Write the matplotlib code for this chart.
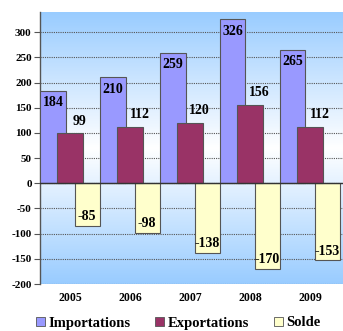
import numpy as np
import matplotlib
matplotlib.use("Agg")
import matplotlib.pyplot as plt
from matplotlib.colors import LinearSegmentedColormap
from matplotlib.patches import Patch

years = ["2005", "2006", "2007", "2008", "2009"]
importations = [184, 210, 259, 326, 265]
exportations = [99, 112, 120, 156, 112]
solde = [-85, -98, -138, -170, -153]
series_names = ["Importations", "Exportations", "Solde"]
yticks = list(range(-200, 301, 50))

SERIF = ["Liberation Serif", "DejaVu Serif"]
colors = ["#9999ff", "#993366", "#ffffcc"]

fig = plt.figure(figsize=(3.43, 3.31), dpi=100)
ax = fig.add_axes([40 / 343, 1 - 284 / 331, 1 - 40 / 343, (284 - 12) / 331])

# vertical blue-white-blue background gradient
cmap = LinearSegmentedColormap.from_list("bg", ["#99ccff", "#ffffff", "#99ccff"])
grad = np.linspace(0, 1, 256).reshape(-1, 1)
ax.imshow(grad, cmap=cmap, aspect="auto", extent=[0, 1, 0, 1],
          transform=ax.transAxes, zorder=0)

x = np.arange(len(years))
width = 0.42
offset = 0.285
edge = "#555555"

ax.bar(x - offset, importations, width, color=colors[0], edgecolor=edge, linewidth=0.8, zorder=3)
ax.bar(x, exportations, width, color=colors[1], edgecolor=edge, linewidth=0.8, zorder=4)
ax.bar(x + offset, solde, width, color=colors[2], edgecolor=edge, linewidth=0.8, zorder=3)

lab_kw = dict(fontfamily=SERIF, fontweight="bold", fontsize=10, color="black", zorder=6)
for i in range(len(years)):
    ax.annotate(str(importations[i]), (x[i] - offset, importations[i]), xytext=(0, -4),
                textcoords="offset points", ha="center", va="top", **lab_kw)
    ax.annotate(str(exportations[i]), (x[i], exportations[i]), xytext=(7, 4),
                textcoords="offset points", ha="center", va="bottom", **lab_kw)
    ax.annotate(str(solde[i]), (x[i] + offset, solde[i]), xytext=(0, 2),
                textcoords="offset points", ha="center", va="bottom", **lab_kw)

ax.set_ylim(-200, 340)
ax.set_xlim(-0.5, 4.55)
ax.set_yticks(yticks)
ax.set_yticklabels([str(v) for v in yticks], fontfamily=SERIF, fontweight="bold", fontsize=8)
ax.grid(axis="y", color="#555555", linestyle=(0, (1, 1)), linewidth=0.8, zorder=1)
ax.axhline(0, color="#333333", linewidth=1.0, zorder=5)
ax.set_xticks(x)
ax.set_xticklabels(years, fontfamily=SERIF, fontweight="bold", fontsize=8.5)
ax.tick_params(axis="x", length=0, pad=6)
ax.tick_params(axis="y", length=4, width=0.8, color="#555555", pad=2)
for side in ["top", "right", "bottom"]:
    ax.spines[side].set_visible(False)
ax.spines["left"].set_color("#555555")
ax.spines["left"].set_linewidth(1.0)

handles = [Patch(facecolor=c, edgecolor=edge, linewidth=0.6) for c in colors]
fig.legend(handles, series_names, loc="center", bbox_to_anchor=(0.52, 1 - 323 / 331),
           ncol=3, frameon=False, handlelength=0.6, handleheight=0.6, handletextpad=0.25,
           columnspacing=1.7, prop=dict(family=SERIF, weight="bold", size=10.5))

fig.savefig("out.png", dpi=100)
